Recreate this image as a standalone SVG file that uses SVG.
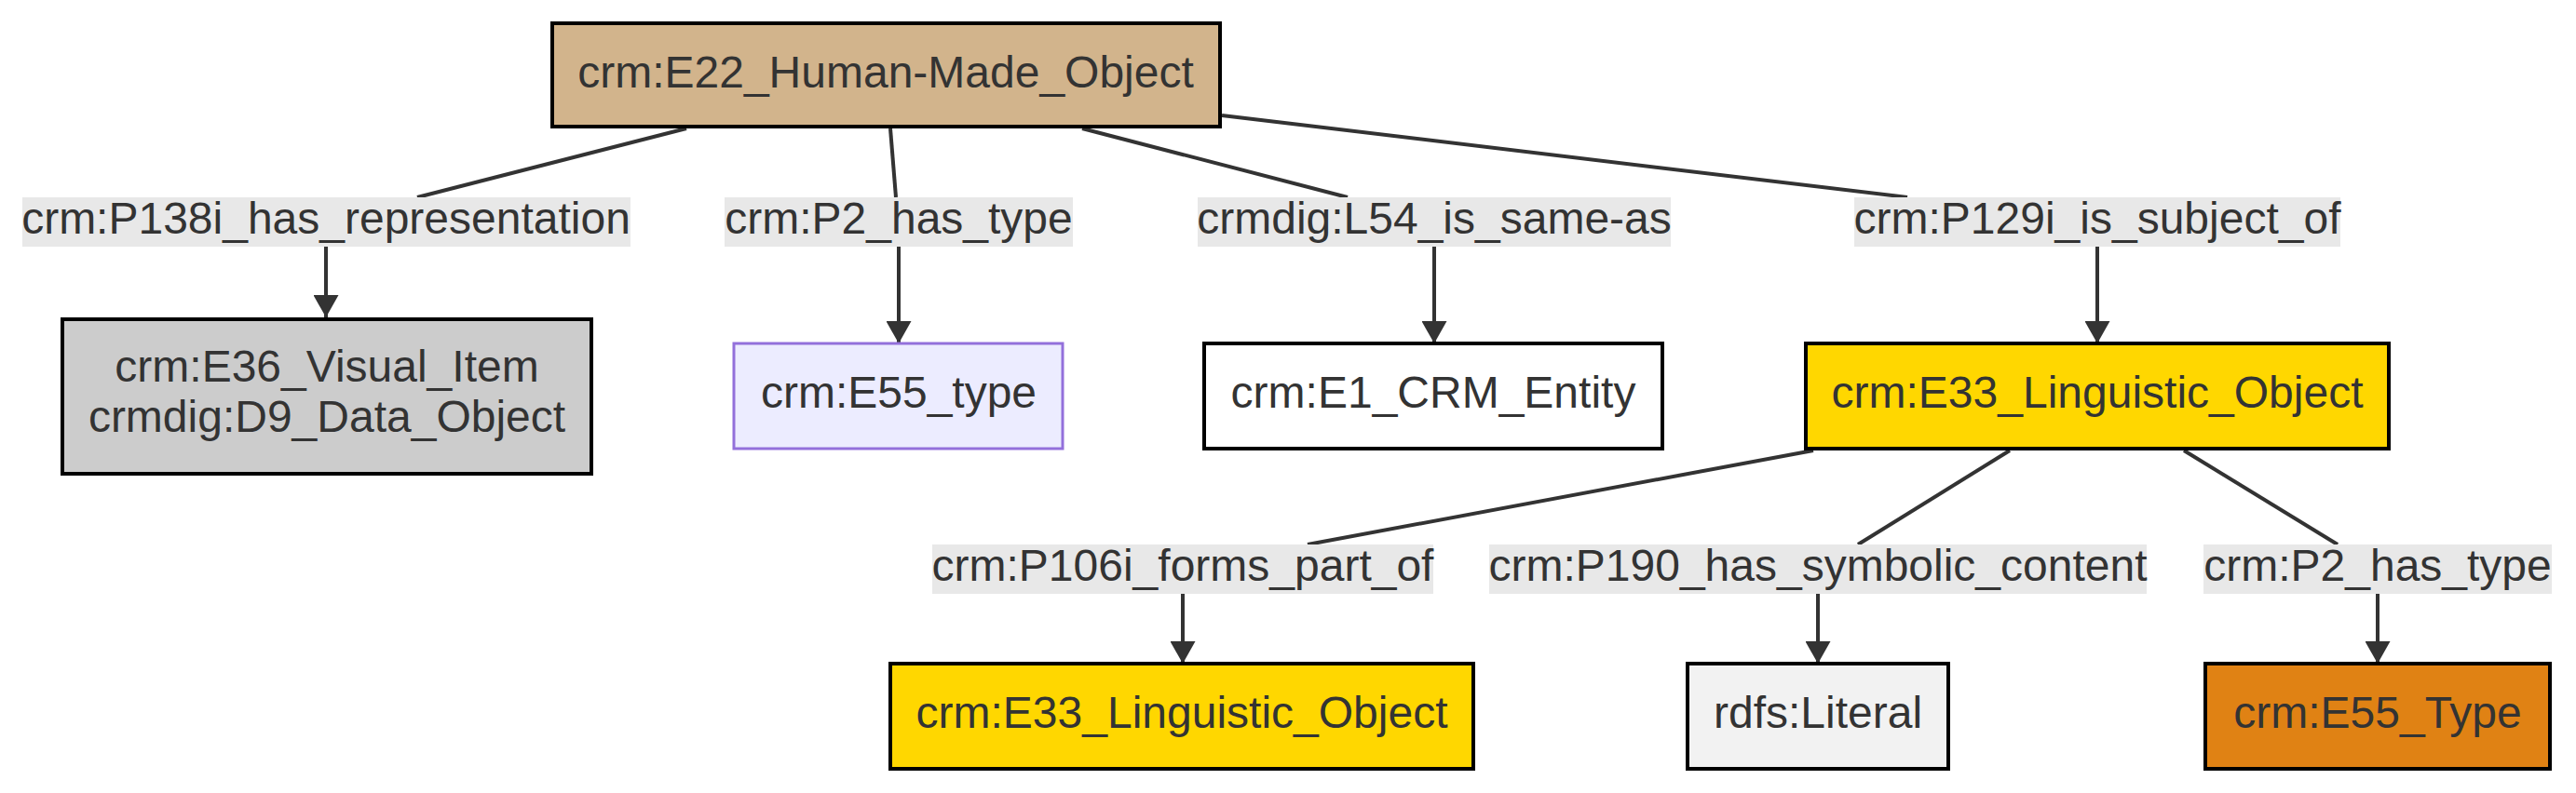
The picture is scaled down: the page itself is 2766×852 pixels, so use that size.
<svg xmlns="http://www.w3.org/2000/svg" width="2766" height="852" viewBox="0 0 2766 852">
<style>
text{font-family:"Liberation Sans",Arial,sans-serif;font-size:48px;fill:#333;text-anchor:middle}
.node{stroke:#000;stroke-width:4}
.edge{stroke:#333;stroke-width:4;fill:none}
.lbl{fill:#e8e8e8}
</style>
<defs>
<marker id="arrow" markerUnits="userSpaceOnUse" markerWidth="24" markerHeight="27" refX="24" refY="13.5" orient="auto">
<path d="M0,0 L24,13.5 L0,27 Z" fill="#333"/>
</marker>
</defs>
<rect width="2766" height="852" fill="#fff"/>
<g id="connectors">
<path class="edge" d="M737,138 L448,212"/>
<path class="edge" d="M350,265 L350,341" marker-end="url(#arrow)"/>
<path class="edge" d="M956,138 L962,212"/>
<path class="edge" d="M965,265 L965,369" marker-end="url(#arrow)"/>
<path class="edge" d="M1162,138 L1447,212"/>
<path class="edge" d="M1540,265 L1540,369" marker-end="url(#arrow)"/>
<path class="edge" d="M1312,124 L2048,212"/>
<path class="edge" d="M2252,265 L2252,369" marker-end="url(#arrow)"/>
<path class="edge" d="M1947,484 L1404,585"/>
<path class="edge" d="M1270,638 L1270,713" marker-end="url(#arrow)"/>
<path class="edge" d="M2158,484 L1995,585"/>
<path class="edge" d="M1952,638 L1952,713" marker-end="url(#arrow)"/>
<path class="edge" d="M2345,484 L2510,585"/>
<path class="edge" d="M2553,638 L2553,713" marker-end="url(#arrow)"/>
</g>
<g id="edge-labels">
<g id="l1"><rect class="lbl" x="24" y="212" width="653" height="53"/><text x="350" y="251">crm:P138i_has_representation</text></g>
<g id="l2"><rect class="lbl" x="778" y="212" width="374" height="53"/><text x="965" y="251">crm:P2_has_type</text></g>
<g id="l3"><rect class="lbl" x="1286" y="212" width="508" height="53"/><text x="1540" y="251">crmdig:L54_is_same-as</text></g>
<g id="l4"><rect class="lbl" x="1991" y="212" width="522" height="53"/><text x="2252" y="251">crm:P129i_is_subject_of</text></g>
<g id="l5"><rect class="lbl" x="1001" y="585" width="538" height="53"/><text x="1270" y="624">crm:P106i_forms_part_of</text></g>
<g id="l6"><rect class="lbl" x="1599" y="585" width="706" height="53"/><text x="1952" y="624">crm:P190_has_symbolic_content</text></g>
<g id="l7"><rect class="lbl" x="2366" y="585" width="374" height="53"/><text x="2553" y="624">crm:P2_has_type</text></g>
</g>
<g id="E22"><rect class="node" x="593" y="25" width="717" height="111" fill="#d2b48c"/><text x="951" y="94">crm:E22_Human-Made_Object</text></g>
<g id="E36"><rect class="node" x="67" y="343" width="568" height="166" fill="#cccccc"/><text x="351" y="410">crm:E36_Visual_Item</text><text x="351" y="464">crmdig:D9_Data_Object</text></g>
<g id="E55a"><rect x="788" y="369" width="353" height="113" fill="#ececff" stroke="#9370db" stroke-width="3"/><text x="965" y="438">crm:E55_type</text></g>
<g id="E1"><rect class="node" x="1293" y="369" width="492" height="113" fill="#ffffff"/><text x="1539" y="438">crm:E1_CRM_Entity</text></g>
<g id="E33a"><rect class="node" x="1939" y="369" width="626" height="113" fill="#ffd700"/><text x="2252" y="438">crm:E33_Linguistic_Object</text></g>
<g id="E33b"><rect class="node" x="956" y="713" width="626" height="113" fill="#ffd700"/><text x="1269" y="782">crm:E33_Linguistic_Object</text></g>
<g id="Literal"><rect class="node" x="1812" y="713" width="280" height="113" fill="#f2f2f2"/><text x="1952" y="782">rdfs:Literal</text></g>
<g id="E55b"><rect class="node" x="2368" y="713" width="370" height="113" fill="#e08214"/><text x="2553" y="782">crm:E55_Type</text></g>
</svg>
